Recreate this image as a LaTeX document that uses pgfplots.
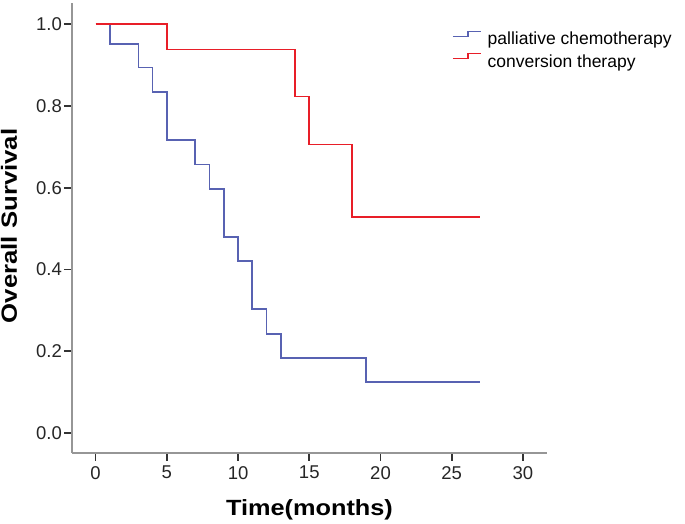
\documentclass[border=0pt]{standalone}
\usepackage{fontspec}
\setmainfont{Liberation Sans}
\usepackage{graphicx}
\usepackage{pgfplots}
\pgfplotsset{compat=1.18}
\definecolor{kmblue}{RGB}{88,98,178}
\definecolor{kmred}{RGB}{232,30,40}
\definecolor{axgray}{RGB}{150,150,150}
\begin{document}
\begin{tikzpicture}
\begin{axis}[
  scale only axis,
  clip mode=individual,
  width=475pt, height=450pt,
  xmin=-1.66, xmax=31.69,
  ymin=-0.049, ymax=1.052,
  axis x line*=bottom,
  axis y line*=left,
  axis line style={axgray, line width=1.3pt},
  tick style={black!80, line width=1.6pt},
  major tick length=8pt,
  tick align=outside,
  xtick={0,5,10,15,20,25,30},
  ytick={0,0.2,0.4,0.6,0.8,1.0},
  yticklabel style={/pgf/number format/fixed, /pgf/number format/fixed zerofill, /pgf/number format/precision=1},
  /pgf/number format/assume math mode=true,
  tick label style={font=\fontsize{18.5}{20}\selectfont, text=black!85},
  yticklabel style={inner sep=0pt, xshift=-2pt},
  xticklabel style={inner sep=0pt, yshift=-5pt},
  legend style={at={(0.80,0.94)}, anchor=north west, draw=none, fill=none,
    font=\fontsize{17.5}{19}\selectfont, row sep=4pt, column sep=4pt, inner sep=0pt,
    legend cell align=left},
  legend image code/.code={\draw[#1, line width=1.5pt] (0pt,3pt) -- (15pt,3pt) -- (15pt,8pt) -- (28pt,8pt);},
]
\addplot[const plot, kmblue, line width=1.7pt] coordinates {
  (0,1) (1,0.951) (3,0.894) (4,0.834) (5,0.716) (7,0.657) (8,0.597)
  (9,0.480) (10,0.420) (11,0.303) (12,0.243) (13,0.184) (19,0.124) (27,0.124)};
\addlegendentry{palliative chemotherapy}
\addplot[const plot, kmred, line width=1.7pt] coordinates {
  (0,1) (5,0.938) (14,0.823) (15,0.706) (18,0.529) (27,0.529)};
\addlegendentry{conversion therapy}
\end{axis}
\node[anchor=base, font=\fontsize{22}{26}\selectfont\bfseries] at ([yshift=-63pt]current axis.south) {\scalebox{1.15}[1]{Time(months)}};
\node[anchor=base, rotate=90, font=\fontsize{22}{26}\selectfont\bfseries] at ([xshift=-55pt, yshift=2pt]current axis.west) {\scalebox{1.17}[1]{Overall Survival}};
\pgfresetboundingbox
\path (current axis.south west) ++(-72pt,-71pt) rectangle ++(685pt,524pt);
\end{tikzpicture}
\end{document}
